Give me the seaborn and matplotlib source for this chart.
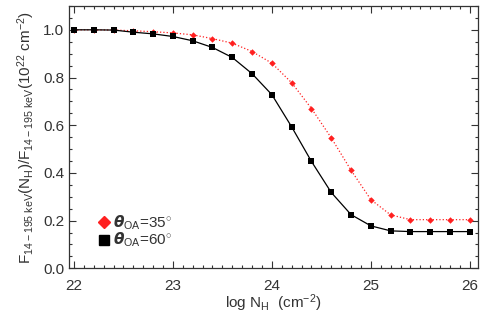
import numpy as np
import pandas as pd
import matplotlib
matplotlib.use("Agg")
import matplotlib.pyplot as plt
from matplotlib.ticker import MultipleLocator
from matplotlib.lines import Line2D
import seaborn as sns

# column density grid and normalised flux ratio for two opening angles
log_nh = [22.0, 22.2, 22.4, 22.6, 22.8, 23.0, 23.2, 23.4, 23.6, 23.8, 24.0,
          24.2, 24.4, 24.6, 24.8, 25.0, 25.2, 25.4, 25.6, 25.8, 26.0]
ratio_35 = [1.000, 1.000, 0.999, 0.996, 0.992, 0.987, 0.979, 0.963, 0.944, 0.909, 0.860,
            0.778, 0.670, 0.547, 0.411, 0.288, 0.224, 0.204, 0.204, 0.204, 0.204]
ratio_60 = [1.000, 1.000, 0.999, 0.990, 0.983, 0.972, 0.954, 0.926, 0.884, 0.816, 0.728,
            0.593, 0.448, 0.318, 0.225, 0.178, 0.157, 0.154, 0.154, 0.154, 0.154]
labels = [r"$\boldsymbol{\theta}_{\rm OA}$=35$^{\circ}$", r"$\boldsymbol{\theta}_{\rm OA}$=60$^{\circ}$"]

sns.set_style("ticks")
plt.rcParams['font.family'] = ['Liberation Sans', 'DejaVu Sans']
plt.rcParams['mathtext.fontset'] = 'custom'
plt.rcParams['mathtext.rm'] = 'Liberation Sans'
plt.rcParams['mathtext.it'] = 'Liberation Sans:italic'
plt.rcParams['mathtext.bf'] = 'Liberation Sans:bold'

df = pd.DataFrame({"lognh": log_nh, "r35": ratio_35, "r60": ratio_60})

fig = plt.figure(figsize=(4.91, 3.14), dpi=100)
ax = fig.add_axes([0.1405, 0.1455, 0.8325, 0.8355])

sns.lineplot(data=df, x="lognh", y="r35", ax=ax, color="#ff2020", linestyle=":",
             linewidth=0.9, marker="D", markersize=3.3, markeredgewidth=0)
sns.lineplot(data=df, x="lognh", y="r60", ax=ax, color="black", linestyle="-",
             linewidth=0.9, marker="s", markersize=4, markeredgewidth=0)

ax.set_xlim(21.95, 26.08)
ax.set_ylim(0.0, 1.1)
ax.xaxis.set_major_locator(MultipleLocator(1))
ax.xaxis.set_minor_locator(MultipleLocator(0.1))
ax.yaxis.set_major_locator(MultipleLocator(0.2))
ax.yaxis.set_minor_locator(MultipleLocator(0.05))
ax.tick_params(which="both", direction="in", top=True, right=True, colors="#333333",
               labelcolor="#333333", labelsize=11)
ax.tick_params(which="major", length=5, width=0.8)
ax.tick_params(which="minor", length=2.5, width=0.8)
ax.tick_params(axis="x", pad=8)
ax.yaxis.set_major_formatter(matplotlib.ticker.FormatStrFormatter("%.1f"))
for s in ax.spines.values():
    s.set_color("#333333")
    s.set_linewidth(0.9)

ax.set_xlabel(r"log N$_{\rm H}$  (cm$^{-2}$)", fontsize=11, color="#333333", labelpad=-1)
ax.set_ylabel(r"F$_{\rm 14-195\ keV}$(N$_{\rm H}$)/F$_{\rm 14-195\ keV}$(10$^{22}$ cm$^{-2}$)",
              fontsize=11, color="#333333", labelpad=4)

handles = [Line2D([], [], color="#ff2020", marker="D", linestyle="none", markersize=6),
           Line2D([], [], color="black", marker="s", linestyle="none", markersize=7)]
ax.legend(handles, labels, loc="lower left", bbox_to_anchor=(0.04, 0.02), frameon=False,
          fontsize=11, handlelength=0.6, handletextpad=0.3, labelspacing=-0.05,
          labelcolor="#333333")

fig.savefig("out.png", dpi=100)
